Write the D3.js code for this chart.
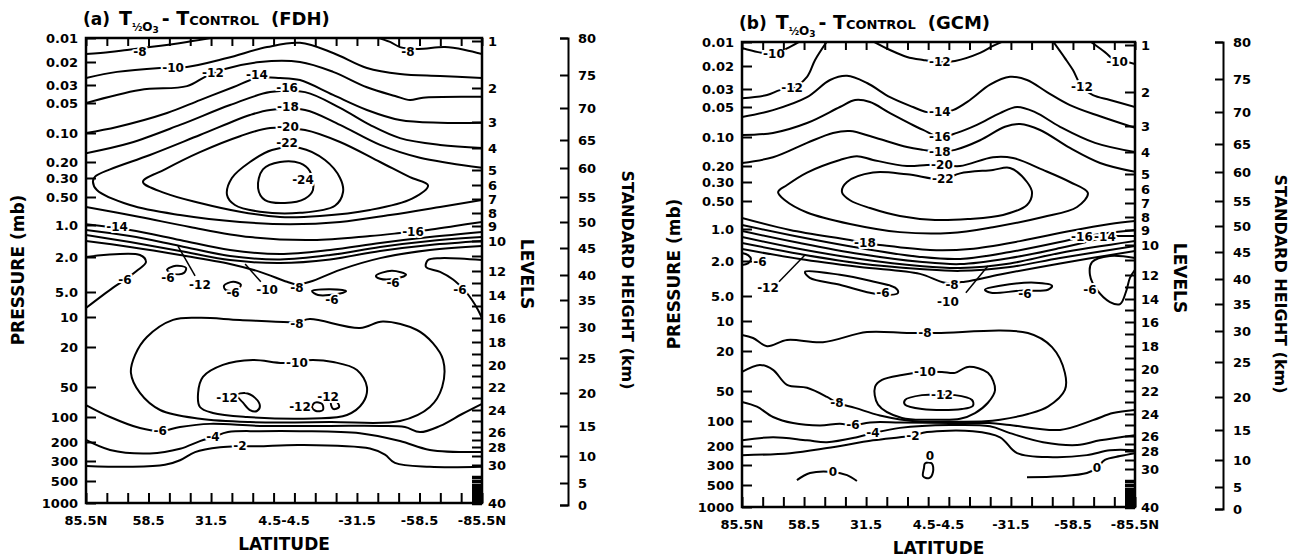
<!DOCTYPE html>
<html>
<head>
<meta charset="utf-8">
<script src="https://cdn.jsdelivr.net/npm/d3@7"></script>
<style>
  body { margin: 0; background: #fff; }
  svg text { font-family: "DejaVu Sans", sans-serif; font-weight: bold; fill: #000; }
</style>
</head>
<body>
<svg id="chart" width="1302" height="559"></svg>
<script>
// ---------- data (latitude in degrees, pressure in mb) ----------
var latTicks = [85.5, 76.5, 67.5, 58.5, 49.5, 40.5, 31.5, 22.5, 13.5, 4.5, -4.5, -13.5, -22.5, -31.5, -40.5, -49.5, -58.5, -67.5, -76.5, -85.5];
var latLabelAt = [85.5, 58.5, 31.5, 0, -31.5, -58.5, -85.5];
var latLabels = ["85.5N", "58.5", "31.5", "4.5-4.5", "-31.5", "-58.5", "-85.5N"];
var pressureTicks = [0.01, 0.02, 0.03, 0.05, 0.1, 0.2, 0.3, 0.5, 1, 2, 5, 10, 20, 50, 100, 200, 300, 500, 1000];
var pressureLabels = ["0.01", "0.02", "0.03", "0.05", "0.10", "0.20", "0.30", "0.50", "1.0", "2.0", "5.0", "10", "20", "50", "100", "200", "300", "500", "1000"];
var levelTicks = [1,2,3,4,5,6,7,8,9,10,11,12,13,14,15,16,17,18,19,20,21,22,23,24,25,26,27,28,29,30,31,32,33,34,35,36,37,38,39,40];
var levelLabels = [1,2,3,4,5,6,7,8,9,10,12,14,16,18,20,22,24,26,28,30,40];
var heightTicks = [0,5,10,15,20,25,30,35,40,45,50,55,60,65,70,75,80];

// (a) FDH contours
var fdhLines = [
  {v:-8, pts:[[85.5,0.0159],[75.1,0.015],[67.8,0.0141],[57.9,0.013],[41.9,0.0112],[29.8,0.0098]]},
  {v:-8, pts:[[-39.7,0.0098],[-45.8,0.0112],[-50.1,0.013],[-57.9,0.0137],[-69.5,0.013],[-78.2,0.0141],[-85.5,0.0159]]},
  {v:-10, pts:[[85.5,0.0265],[72.1,0.0238],[53.5,0.0222],[41.9,0.0218],[24.6,0.0178],[7.3,0.013],[-6.9,0.0115],[-21.2,0.0154],[-35.8,0.0222],[-50.1,0.0247],[-67.4,0.0256],[-85.5,0.0265]]},
  {v:-12, pts:[[85.5,0.05],[62.2,0.0345],[41.9,0.031],[34.1,0.026],[26.8,0.0229],[10.4,0.02],[-6.9,0.02],[-21.2,0.0238],[-35.8,0.032],[-48,0.041],[-54.4,0.046],[-60,0.043],[-85.5,0.042]]},
  {v:-14, pts:[[85.5,0.1],[72.1,0.087],[50.5,0.063],[36.3,0.046],[22,0.032],[11.7,0.0265],[1.7,0.0265],[-6.9,0.0275],[-21.2,0.0398],[-35.8,0.0587],[-50.1,0.0741],[-67.4,0.079],[-85.5,0.079]]},
  {v:-16, pts:[[85.5,0.162],[66.5,0.127],[44.9,0.083],[23.3,0.0524],[6,0.0367],[-9.1,0.0367],[-24.2,0.056],[-37.1,0.083],[-50.1,0.113],[-67.4,0.133],[-85.5,0.143]]},
  {v:-18, pts:[[-85.5,0.232],[-71.7,0.206],[-58.7,0.181],[-41.5,0.133],[-24.2,0.083],[-9.1,0.0587],[6,0.0587],[14.7,0.066],[36.3,0.105],[57.9,0.169],[75.1,0.241],[81.6,0.29],[82.5,0.333],[80.8,0.414],[66.5,0.61],[44.9,0.781],[19,0.928],[-2.6,0.98],[-24.2,0.928],[-45.8,0.781],[-67.4,0.64],[-85.5,0.538]]},
  {v:-20, closed:true, pts:[[60.9,0.333],[51.4,0.241],[36.3,0.158],[19,0.108],[6,0.089],[-9.1,0.0933],[-24.2,0.124],[-41.5,0.2],[-54.4,0.294],[-62.2,0.366],[-55.3,0.52],[-37.1,0.689],[-15.5,0.8],[1.7,0.82],[19,0.72],[36.3,0.58],[51.4,0.45]]},
  {v:-22, closed:true, pts:[[24.6,0.474],[22.5,0.3],[14.7,0.2],[5.2,0.15],[-6.9,0.143],[-17.7,0.191],[-24.2,0.3],[-25.5,0.437],[-22,0.62],[-6.9,0.74],[10.4,0.72],[21.2,0.61]]},
  {v:-24, closed:true, pts:[[11.2,0.393],[9.1,0.241],[1.7,0.2],[-6.9,0.206],[-11.2,0.253],[-12.5,0.414],[-9.1,0.52],[-0.4,0.58],[8.2,0.54]]},
  {v:-16, pts:[[85.5,0.64],[62.2,0.82],[40.6,1.044],[14.7,1.3],[-12.5,1.384],[-37.1,1.269],[-50.1,1.19],[-62.2,1.114],[-73.8,1.02],[-85.5,0.928]]},
  {v:-14, pts:[[85.5,0.98],[66.5,1.114],[44.9,1.384],[23.3,1.718],[1.7,1.874],[-19.9,1.718],[-41.5,1.478],[-63,1.3],[-85.5,1.164]]},
  {v:-12, pts:[[85.5,1.114],[66.5,1.269],[44.9,1.576],[23.3,1.957],[1.7,2.13],[-19.9,1.915],[-41.5,1.61],[-63,1.415],[-85.5,1.3]]},
  {v:-10, pts:[[85.5,1.24],[66.5,1.446],[44.9,1.756],[23.3,2.17],[1.7,2.34],[-19.9,2.13],[-41.5,1.756],[-63,1.543],[-85.5,1.415]]},
  {v:-8, pts:[[85.5,1.415],[66.5,1.61],[44.9,1.915],[23.3,2.4],[10.4,2.95],[-1.3,3.83],[-5.6,4.1],[-11.2,3.83],[-24.2,2.8],[-41.5,2.06],[-63,1.718],[-85.5,1.576]]},
  {v:-6, pts:[[85.5,2.0],[62.2,1.915],[59.6,2.28],[63,2.8],[68.7,3.63],[73.8,4.46],[85.5,7.79]]},
  {v:-6, closed:true, pts:[[50.5,2.8],[46.6,2.52],[42.3,2.66],[43.2,3.03],[47.5,3.11]]},
  {v:-6, closed:true, pts:[[25.9,4.24],[22,3.83],[18.6,4.13],[20.7,4.76],[25.1,4.76]]},
  {v:-6, closed:true, pts:[[-12.1,4.88],[-19.9,4.64],[-26.8,4.88],[-24.2,5.2],[-14.7,5.43]]},
  {v:-6, closed:true, pts:[[-39.7,3.27],[-46.6,2.87],[-52.7,3.19],[-47.9,3.53],[-41.5,3.53]]},
  {v:-6, pts:[[-85.5,2.17],[-67.4,2.06],[-62.2,2.17],[-61.3,2.59],[-67.4,2.95],[-73,3.6],[-78,4.8],[-81.2,6.25],[-83.8,8.25],[-85.5,10.3]]},
  {v:-8, closed:true, pts:[[47.9,10.7],[36.3,10.2],[19,10.7],[-5.6,11.2],[-11.2,10.5],[-32.8,12.9],[-42.7,11.1],[-57.4,13.5],[-64.3,18.3],[-68.7,26.9],[-68.3,50],[-63,79.4],[-50.1,112],[-19.9,115],[14.7,115],[36.3,105],[53.5,85.1],[62.2,57.4],[66.1,36.2],[64.3,24],[59.2,15.9]]},
  {v:-10, closed:true, pts:[[0.4,28.8],[13.4,26.9],[26.4,30.1],[35,39.6],[37.1,57.4],[36.3,79.4],[30.7,91.2],[16,100],[-12.5,104],[-27.2,95.5],[-34.1,71.8],[-35.8,50],[-31.5,33.8],[-21.2,28.2],[-12.5,26.9]]},
  {v:-12, closed:true, pts:[[20.3,60.3],[16.8,57.4],[12.5,64.3],[10.4,77.6],[11.7,87],[14.7,85.1],[17.7,71.8]]},
  {v:-12, closed:true, pts:[[-16.4,73.8],[-13.4,71.8],[-12.1,79.4],[-13.8,87],[-16.8,85.1]]},
  {v:-12, closed:true, pts:[[-20.3,69.5],[-22.9,71],[-23.8,79.4],[-21.2,83]]},
  {v:-6, pts:[[85.5,75.8],[75.1,100],[62.2,136],[53.5,148],[44.9,132],[32,121],[10.4,128],[-19.9,128],[-41.5,128],[-52.2,132],[-58.7,152],[-67.4,128],[-76.9,93.3],[-85.5,73.8]]},
  {v:-4, pts:[[85.5,189],[75.1,237],[57.9,255],[44.9,231],[36.3,195],[30.7,175],[24.2,152],[10.4,148],[-6.9,148],[-32.8,157],[-50.1,195],[-63,237],[-85.5,248]]},
  {v:-2, pts:[[85.5,340],[66.5,348],[51.4,331],[44.9,295],[38.4,248],[27.6,224],[19,219],[11.2,219],[-6.9,213],[-37.1,230],[-43.6,262],[-47.9,315],[-63,348],[-85.5,348]]}
];
var fdhLeaders = [[[45.8,1.576],[38.4,3.27]], [[16.8,2.4],[10,3.83]]];
var fdhLabels = [
  [62.2,0.015,"-8"],[-53.5,0.015,"-8"],[47.9,0.0222,"-10"],[30.7,0.0243,"-12"],[11.7,0.0251,"-14"],
  [-1.3,0.0327,"-16"],[-1.7,0.055,"-18"],[-1.7,0.087,"-20"],[-1.3,0.127,"-22"],[-8.2,0.316,"-24"],
  [72.1,1.044,"-14"],[-55.7,1.164,"-16"],[68.7,3.63,"-6"],[50.1,3.44,"-6"],[36.3,4.13,"-12"],
  [22,5.2,"-6"],[7.3,4.76,"-10"],[-5.6,4.46,"-8"],[-20.7,6.25,"-6"],[-47.1,3.92,"-6"],[-76,4.76,"-6"],
  [-5.6,11.7,"-8"],[-5.6,28.8,"-10"],[24.6,64.3,"-12"],[-6.9,79.4,"-12"],[-19,62.9,"-12"],
  [53.5,148,"-6"],[30.7,175,"-4"],[19,219,"-2"]
];

// (b) GCM contours
var gcmLines = [
  {v:-10, pts:[[85.5,0.0119],[78.5,0.0134],[71.6,0.0141],[64.6,0.0115],[60.3,0.0098]]},
  {v:-12, pts:[[85.5,0.039],[74.6,0.0356],[69,0.031],[63.7,0.0297],[57.2,0.0242],[53.7,0.0168],[48.5,0.0098]]},
  {v:-12, pts:[[28.5,0.0098],[21.1,0.0126],[13.7,0.0154],[6.7,0.0168],[-0.6,0.0178],[-7.2,0.0173],[-18.1,0.0137],[-23.7,0.0112],[-28.1,0.0098]]},
  {v:-12, pts:[[-49.8,0.0098],[-55,0.0159],[-58.5,0.0215],[-62.4,0.029],[-67.2,0.0356],[-74.6,0.041],[-85.5,0.05]]},
  {v:-10, pts:[[-65.9,0.0098],[-72.4,0.0134],[-77.7,0.0178],[-82,0.0178],[-85.5,0.0189]]},
  {v:-14, pts:[[85.5,0.063],[72,0.0537],[57.2,0.0378],[47.2,0.0256],[39.8,0.0238],[31.1,0.027],[21.1,0.0378],[11.1,0.05],[5,0.0563],[-0.6,0.0563],[-6.3,0.0537],[-13.7,0.041],[-22.4,0.0278],[-31.1,0.0242],[-38.5,0.0256],[-47.2,0.0327],[-57.2,0.0473],[-70.3,0.062],[-85.5,0.081]]},
  {v:-16, pts:[[85.5,0.0955],[72,0.091],[57.2,0.0724],[42.9,0.05],[36.3,0.041],[29.8,0.0434],[21.1,0.0575],[6.7,0.085],[-0.6,0.1],[-8,0.091],[-16.7,0.0757],[-26.8,0.0575],[-34.2,0.05],[-42,0.0563],[-52.9,0.079],[-68.1,0.115],[-85.5,0.143]]},
  {v:-18, pts:[[85.5,0.186],[72,0.162],[57.2,0.115],[45.9,0.091],[38.5,0.087],[28.5,0.1],[13.7,0.127],[6.7,0.136],[-0.6,0.143],[-7.2,0.136],[-18.1,0.108],[-28.9,0.079],[-35.5,0.0741],[-44.2,0.085],[-57.2,0.13],[-70.3,0.186],[-85.5,0.232]]},
  {v:-20, closed:true, pts:[[69.8,0.393],[65.9,0.325],[57.2,0.236],[42.9,0.173],[35.5,0.158],[28.5,0.173],[13.7,0.2],[5,0.195],[-1.5,0.195],[-9.4,0.2],[-23.7,0.162],[-32.4,0.165],[-45.5,0.221],[-57.2,0.3],[-65,0.403],[-60.3,0.58],[-45.5,0.743],[-23.7,0.955],[-5,1.09],[16.8,1.07],[38.5,0.884],[57.2,0.665],[66.8,0.49]]},
  {v:-22, closed:true, pts:[[42,0.393],[39.8,0.3],[28.5,0.236],[13.7,0.247],[-1.9,0.28],[-9.4,0.241],[-23.7,0.221],[-31.1,0.21],[-38.5,0.3],[-40.7,0.403],[-38.5,0.552],[-28.1,0.706],[-12.8,0.781],[1.5,0.8],[16.8,0.725],[29.8,0.595],[38.5,0.49]]},
  {v:-18, pts:[[85.5,0.76],[64.6,1.02],[38.5,1.269],[32,1.355],[25.5,1.415],[3.7,1.576],[-13.7,1.543],[-35.5,1.3],[-57.2,1.044],[-74.6,0.884],[-85.5,0.82]]},
  {v:-16, pts:[[85.5,0.906],[60.3,1.19],[34.2,1.51],[8.1,1.83],[-9.4,1.915],[-31.1,1.646],[-52.9,1.326],[-62.4,1.19],[-70.3,1.114],[-85.5,1.02]]},
  {v:-14, pts:[[85.5,1.044],[60.3,1.355],[34.2,1.718],[8.1,2.04],[-9.4,2.17],[-31.1,1.874],[-52.9,1.51],[-65.9,1.3],[-72.4,1.19],[-79,1.164],[-85.5,1.164]]},
  {v:-12, pts:[[85.5,1.19],[60.3,1.543],[34.2,1.915],[8.1,2.28],[-9.4,2.4],[-31.1,2.13],[-52.9,1.68],[-85.5,1.3]]},
  {v:-10, pts:[[85.5,1.355],[60.3,1.718],[34.2,2.13],[8.1,2.46],[-9.4,2.59],[-31.1,2.34],[-52.9,1.874],[-85.5,1.446]]},
  {v:-8, pts:[[85.5,1.543],[60.3,1.915],[34.2,2.34],[8.1,2.8],[-2.8,3.53],[-11.5,3.44],[-26.8,2.85],[-52.9,2.13],[-85.5,1.61]]},
  {v:-6, pts:[[85.5,1.68],[82.9,1.76],[81.6,1.915],[82.9,2.13],[85.5,2.22]]},
  {v:-6, closed:true, pts:[[58.1,2.66],[42.9,2.87],[29.8,3.36],[18.9,4.02],[17.6,4.6],[23.3,4.88],[29.8,4.6],[42.9,3.73],[56,3.11]]},
  {v:-6, closed:true, pts:[[-20.2,4.24],[-26.8,3.83],[-42,3.53],[-49.4,3.83],[-47.6,4.24],[-35.5,4.35],[-22.9,4.6]]},
  {v:-6, pts:[[-85.5,1.874],[-74.6,1.795],[-66.8,2.06],[-65.9,2.87],[-68.9,4.24],[-74.6,5.91],[-79,6.25],[-81.6,4.46],[-83.3,3.11],[-85.5,2.52]]},
  {v:-8, pts:[[85.5,13.8],[80.7,14.8],[74.6,17.9],[65.9,15.5],[50.3,16.3],[31.1,12.9],[13.7,13.2],[0.7,13.2],[-38.9,13.2],[-49.4,18.3],[-55,33],[-55,48.8],[-47.6,71.8],[-38.9,85.1],[-26.8,97],[-20.2,101],[-5,102],[8.1,102],[25.5,88],[36.3,73.8],[44.2,65.6],[48.5,57.4],[57.2,46.5],[65.9,43.4],[72,30.8],[77.7,27.5],[85.5,32.3]]},
  {v:-10, closed:true, pts:[[27.6,45.4],[24.6,38.8],[15.9,34.6],[5.9,32.3],[-1.5,32.3],[-7.2,33],[-12.8,28.8],[-21.5,33],[-24.6,48.8],[-21.5,65.6],[-15.9,83.2],[-9.4,95],[1.5,97],[15.9,93.3],[26.3,68.4]]},
  {v:-12, closed:true, pts:[[14.6,61.6],[7.2,55],[-1.5,55],[-7.2,55],[-14.6,61.6],[-15,70.2],[-10.2,75.8],[7.2,75.8],[14.6,68.4]]},
  {v:-6, pts:[[85.5,64.3],[79,71.8],[72,91.2],[63.3,106],[51.6,113],[42.9,108],[37.2,113],[29.8,104],[16.8,104],[-5,106],[-22.4,106],[-31.1,112],[-52.9,128],[-67.2,98],[-75.9,83.2],[-85.5,77.6]]},
  {v:-4, pts:[[85.5,171],[72,157],[57.2,171],[48.5,180],[35.5,157],[28.5,140],[16.8,121],[-5,112],[-22.4,116],[-31.1,140],[-45.5,180],[-60.3,195],[-70.3,171],[-85.5,148]]},
  {v:-2, pts:[[85.5,243],[64.6,233],[48.5,209],[28.5,171],[16.8,157],[11.1,150],[5,136],[-15,133],[-26.8,157],[-34.2,233],[-49.8,254],[-64.6,243],[-74.6,219],[-85.5,219]]},
  {v:0, pts:[[61.6,441],[55.9,368],[45.9,358],[39.8,389],[35.5,452]]},
  {v:0, closed:true, pts:[[5.9,290],[2.9,290],[2.4,358],[4.1,420],[6.7,400],[6.3,323]]},
  {v:0, pts:[[-38.5,410],[-52.9,400],[-64.6,368],[-68.9,323],[-72.4,269],[-79,248],[-85.5,233]]}
];
var gcmLeaders = [[[58.1,1.76],[69.4,3.44]], [[-21.5,2.28],[-11.9,4.6]]];
var gcmLabels = [
  [71.6,0.0141,"-10"],[63.7,0.0297,"-12"],[-0.6,0.0178,"-12"],[-62.4,0.029,"-12"],[-77.7,0.0178,"-10"],
  [-0.6,0.0563,"-14"],[-0.6,0.1,"-16"],[-0.6,0.143,"-18"],[-1.5,0.195,"-20"],[-1.9,0.28,"-22"],
  [32,1.355,"-18"],[-62.4,1.19,"-16"],[-72.4,1.19,"-14"],[77.7,2.06,"-6"],[74.2,4.02,"-12"],
  [24.2,4.6,"-6"],[-5.9,3.73,"-8"],[-4.1,5.91,"-10"],[-37.6,4.8,"-6"],[-65.9,4.24,"-6"],
  [5.9,13.2,"-8"],[5.9,32.3,"-10"],[-1.5,55,"-12"],[44.2,65.6,"-8"],[37.2,113,"-6"],
  [28.5,140,"-4"],[11.1,150,"-2"],[45.9,358,"0"],[3.7,248,"0"],[-68.9,323,"0"]
];

// ---------- layout ----------
var PH = 465;
var pressurePos = [0,24,47,65,95,124,140,159,187,219,254,279,309,349,379,404,423,443,465];
var levelPos = [3,50,84,110,132,147,161,175,188,203,218,233,245,257,268,280,292,304,316,327,338,349,360,372,383,394,402,409,418,427,439,443,447,450,453,456,459,461,463,465];
var heightPos = [467,445,418,388,355,320,289,262,237,210,184,159,130,102,70,37,0];

var svg = d3.select("#chart");

var panels = [
  {id:"a", x:86, y:38, w:396, hx:482, tag:"(a)", src:"(FDH)", lines:fdhLines, labels:fdhLabels, leaders:fdhLeaders},
  {id:"b", x:742, y:42, w:393, hx:481, tag:"(b)", src:"(GCM)", lines:gcmLines, labels:gcmLabels, leaders:gcmLeaders}
];

function styleAxis(g, sw) {
  g.attr("font-size", 13).attr("font-family", "DejaVu Sans").attr("font-weight", "bold");
  g.selectAll("line").attr("stroke", "#000").attr("stroke-width", sw || 2);
  g.selectAll("path").attr("stroke", "#000").attr("stroke-width", 2);
}

function drawPanel(P) {
  var g = svg.append("g").attr("transform", "translate(" + P.x + "," + P.y + ")");
  var x = d3.scaleLinear().domain([85.5, -85.5]).range([0, P.w]);
  var y = d3.scaleLog().domain(pressureTicks).range(pressurePos);
  var yLev = d3.scaleLinear().domain(levelTicks).range(levelPos);
  var yHt = d3.scaleLinear().domain(heightTicks).range(heightPos);

  g.append("clipPath").attr("id", "clip-" + P.id)
    .append("rect").attr("width", P.w).attr("height", PH);

  var openLine = d3.line().x(d => x(d[0])).y(d => y(d[1])).curve(d3.curveCatmullRom.alpha(0.5));
  var closedLine = d3.line().x(d => x(d[0])).y(d => y(d[1])).curve(d3.curveCatmullRomClosed.alpha(0.5));

  var cg = g.append("g").attr("clip-path", "url(#clip-" + P.id + ")");
  cg.selectAll("path.contour").data(P.lines).join("path")
    .attr("class", "contour")
    .attr("d", d => (d.closed ? closedLine : openLine)(d.pts))
    .attr("fill", "none").attr("stroke", "#000").attr("stroke-width", 2)
    .attr("stroke-linejoin", "round");

  cg.selectAll("path.leader").data(P.leaders).join("path")
    .attr("class", "leader")
    .attr("d", d3.line().x(d => x(d[0])).y(d => y(d[1])))
    .attr("fill", "none").attr("stroke", "#000").attr("stroke-width", 1.5);

  cg.selectAll("text.clab").data(P.labels).join("text")
    .attr("class", "clab")
    .attr("x", d => x(d[0])).attr("y", d => y(d[1]))
    .attr("text-anchor", "middle").attr("dominant-baseline", "central")
    .attr("font-size", 12)
    .attr("stroke", "#fff").attr("stroke-width", 4).attr("stroke-linejoin", "round")
    .attr("paint-order", "stroke")
    .text(d => d[2]);

  // frame
  g.append("rect").attr("width", P.w).attr("height", PH)
    .attr("fill", "none").attr("stroke", "#000").attr("stroke-width", 2.5);

  // pressure axis (ticks inward)
  var ax = g.append("g").call(d3.axisLeft(y).tickValues(pressureTicks)
    .tickFormat((d, i) => pressureLabels[i]).tickSize(-10).tickPadding(8));
  ax.select(".domain").remove();
  styleAxis(ax);

  // latitude ticks on top and bottom edges
  var at = g.append("g").call(d3.axisTop(x).tickValues(latTicks).tickFormat("").tickSize(-8));
  at.select(".domain").remove();
  styleAxis(at);
  var ab = g.append("g").attr("transform", "translate(0," + PH + ")")
    .call(d3.axisBottom(x).tickValues(latTicks).tickFormat("").tickSize(-10));
  ab.select(".domain").remove();
  styleAxis(ab);

  g.selectAll("text.latlab").data(latLabelAt).join("text")
    .attr("class", "latlab")
    .attr("x", d => x(d)).attr("y", PH + 22)
    .attr("text-anchor", "middle").attr("font-size", 13)
    .text((d, i) => latLabels[i]);

  // model levels on the right edge
  var al = g.append("g").attr("transform", "translate(" + P.w + ",0)")
    .call(d3.axisRight(yLev).tickValues(levelTicks)
      .tickFormat(d => levelLabels.indexOf(d) >= 0 ? d : "").tickSize(-10).tickPadding(6));
  al.select(".domain").remove();
  styleAxis(al);
  al.selectAll(".tick").filter(d => d > 30).select("line").attr("stroke-width", 3.5);

  // standard height axis
  var ah = g.append("g").attr("transform", "translate(" + P.hx + ",0)")
    .call(d3.axisRight(yHt).tickValues(heightTicks).tickSize(-8).tickSizeOuter(-8).tickPadding(10));
  styleAxis(ah);

  // axis titles
  g.append("text").attr("transform", "translate(-68,232) rotate(-90)")
    .attr("text-anchor", "middle").attr("font-size", 17).attr("dominant-baseline", "central")
    .text("PRESSURE  (mb)");
  g.append("text").attr("transform", "translate(" + (P.w + 45) + ",236) rotate(90)")
    .attr("text-anchor", "middle").attr("font-size", 17).attr("dominant-baseline", "central")
    .text("LEVELS");
  g.append("text").attr("transform", "translate(" + (P.w + 145) + ",242) rotate(90)")
    .attr("text-anchor", "middle").attr("font-size", 16).attr("dominant-baseline", "central")
    .text("STANDARD HEIGHT  (km)");
  g.append("text").attr("x", P.w / 2).attr("y", PH + 47)
    .attr("text-anchor", "middle").attr("font-size", 17)
    .text("LATITUDE");

  // title
  var t = g.append("text").attr("x", -3).attr("y", -13);
  t.append("tspan").attr("font-size", 17).text(P.tag);
  t.append("tspan").attr("font-size", 19).attr("dx", 9).text("T");
  t.append("tspan").attr("font-size", 10).attr("dy", 6).text("½");
  t.append("tspan").attr("font-size", 12).text("O");
  t.append("tspan").attr("font-size", 9).attr("dy", 2).text("3");
  t.append("tspan").attr("font-size", 19).attr("dy", -8).attr("dx", 3).text("- T");
  t.append("tspan").attr("font-size", 13).text("CONTROL");
  t.append("tspan").attr("font-size", 18).attr("dx", 12).text(P.src);
}

panels.forEach(drawPanel);
</script>
</body>
</html>
